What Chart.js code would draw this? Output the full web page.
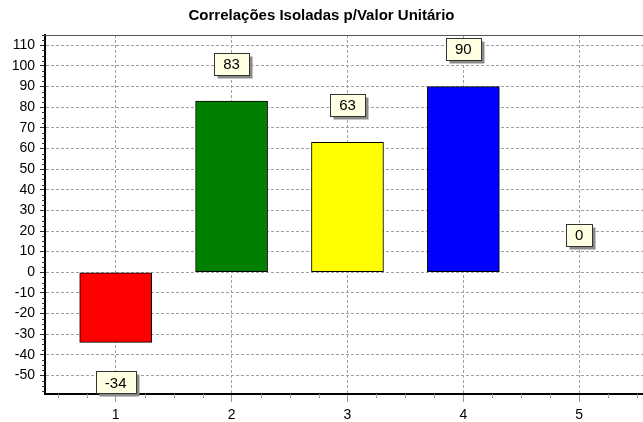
<!DOCTYPE html>
<html>
<head>
<meta charset="utf-8">
<script src="https://cdn.jsdelivr.net/npm/chart.js@4.4.1/dist/chart.umd.min.js"></script>
<style>
  html, body { margin: 0; padding: 0; background: #fff; }
  #wrap { width: 643px; height: 422px; }
</style>
</head>
<body>
<div id="wrap"><canvas id="chart" width="643" height="422"></canvas></div>
<script>
// Data
const categories = [1, 2, 3, 4, 5];
const values = [-34, 83, 63, 90, 0];
const barColors = ['#ff0000', '#008000', '#ffff00', '#0000ff', '#ffffff'];
const titleText = 'Correlações Isoladas p/Valor Unitário';

const FONT = '"Liberation Sans", Arial, sans-serif';

// minor ticks + top frame line
const minorTicks = {
    id: 'minorTicks',
    afterDraw(chart) {
        const { ctx, chartArea, scales } = chart;
        const x = scales.x, y = scales.y;
        ctx.save();
        ctx.lineWidth = 1;

        // top frame
        ctx.strokeStyle = '#555';
        ctx.beginPath();
        ctx.moveTo(chartArea.left, chartArea.top + 0.5);
        ctx.lineTo(chartArea.right, chartArea.top + 0.5);
        ctx.stroke();

        // y minor ticks every 2.5
        ctx.strokeStyle = '#333';
        for (let v = -57.5; v <= y.max; v += 2.5) {
            if (v < y.min || Math.abs(v % 10) < 0.01) continue;
            const py = Math.round(y.getPixelForValue(v)) + 0.5;
            ctx.beginPath();
            ctx.moveTo(chartArea.left - 3, py);
            ctx.lineTo(chartArea.left, py);
            ctx.stroke();
        }

        // x minor ticks every 0.25
        ctx.strokeStyle = '#999';
        for (let v = 0.5; v <= x.max; v += 0.25) {
            if (v < x.min || Math.abs(v - Math.round(v)) < 0.01) continue;
            const px = Math.round(x.getPixelForValue(v)) + 0.5;
            ctx.beginPath();
            ctx.moveTo(px, chartArea.bottom);
            ctx.lineTo(px, chartArea.bottom + 4);
            ctx.stroke();
        }
        ctx.restore();
    }
};

// value boxes above / below each bar
const valueBoxes = {
    id: 'valueBoxes',
    afterDatasetsDraw(chart) {
        const { ctx, scales } = chart;
        ctx.save();
        ctx.font = '15px ' + FONT;
        ctx.textAlign = 'center';
        ctx.textBaseline = 'middle';
        values.forEach((v, i) => {
            const cx = scales.x.getPixelForValue(categories[i]);
            const end = scales.y.getPixelForValue(v);
            const cy = v < 0 ? end + 40 : end - 37.5;
            const label = String(v);
            const w = Math.round(ctx.measureText(label).width + 18);
            const h = 22;
            const bx = Math.round(cx - w / 2) + 0.5;
            const by = Math.round(cy - h / 2) + 0.5;
            ctx.fillStyle = '#8a8a8a';
            ctx.fillRect(bx + 3, by + 3, w, h);
            ctx.fillStyle = '#ffffe1';
            ctx.fillRect(bx, by, w, h);
            ctx.strokeStyle = '#333';
            ctx.lineWidth = 1;
            ctx.strokeRect(bx, by, w, h);
            ctx.fillStyle = '#000';
            ctx.fillText(label, cx, cy + 1);
        });
        ctx.restore();
    }
};

new Chart(document.getElementById('chart'), {
    type: 'bar',
    data: {
        datasets: [{
            data: categories.map((c, i) => ({ x: c, y: values[i] })),
            backgroundColor: barColors,
            borderColor: '#000',
            borderWidth: 1,
            borderSkipped: false,
            barThickness: 72
        }]
    },
    options: {
        responsive: false,
        animation: false,
        events: [],
        layout: { padding: 0 },
        plugins: {
            legend: { display: false },
            tooltip: { enabled: false },
            title: {
                display: true,
                text: titleText,
                color: '#000',
                font: { family: FONT, size: 15, weight: 'bold' },
                padding: { top: 6.6, bottom: 10.4 }
            }
        },
        scales: {
            x: {
                type: 'linear',
                min: 0.39,
                max: 5.55,
                offset: false,
                afterFit: s => { s.height = 28; },
                ticks: {
                    stepSize: 1,
                    includeBounds: false,
                    color: '#000',
                    padding: 5,
                    font: { family: FONT, size: 14 }
                },
                grid: {
                    offset: false,
                    color: '#a0a0a0',
                    tickColor: '#999',
                    tickLength: 8,
                    lineWidth: 1
                },
                border: { display: true, color: '#000', width: 2, dash: [3, 2] }
            },
            y: {
                min: -59,
                max: 115,
                afterFit: s => { s.width = 45; },
                ticks: {
                    stepSize: 10,
                    includeBounds: false,
                    color: '#000',
                    padding: 5,
                    font: { family: FONT, size: 14 }
                },
                grid: {
                    color: '#a0a0a0',
                    tickColor: '#333',
                    tickLength: 5,
                    lineWidth: 1
                },
                border: { display: true, color: '#000', width: 2, dash: [3, 2] }
            }
        }
    },
    plugins: [minorTicks, valueBoxes]
});
</script>
</body>
</html>
